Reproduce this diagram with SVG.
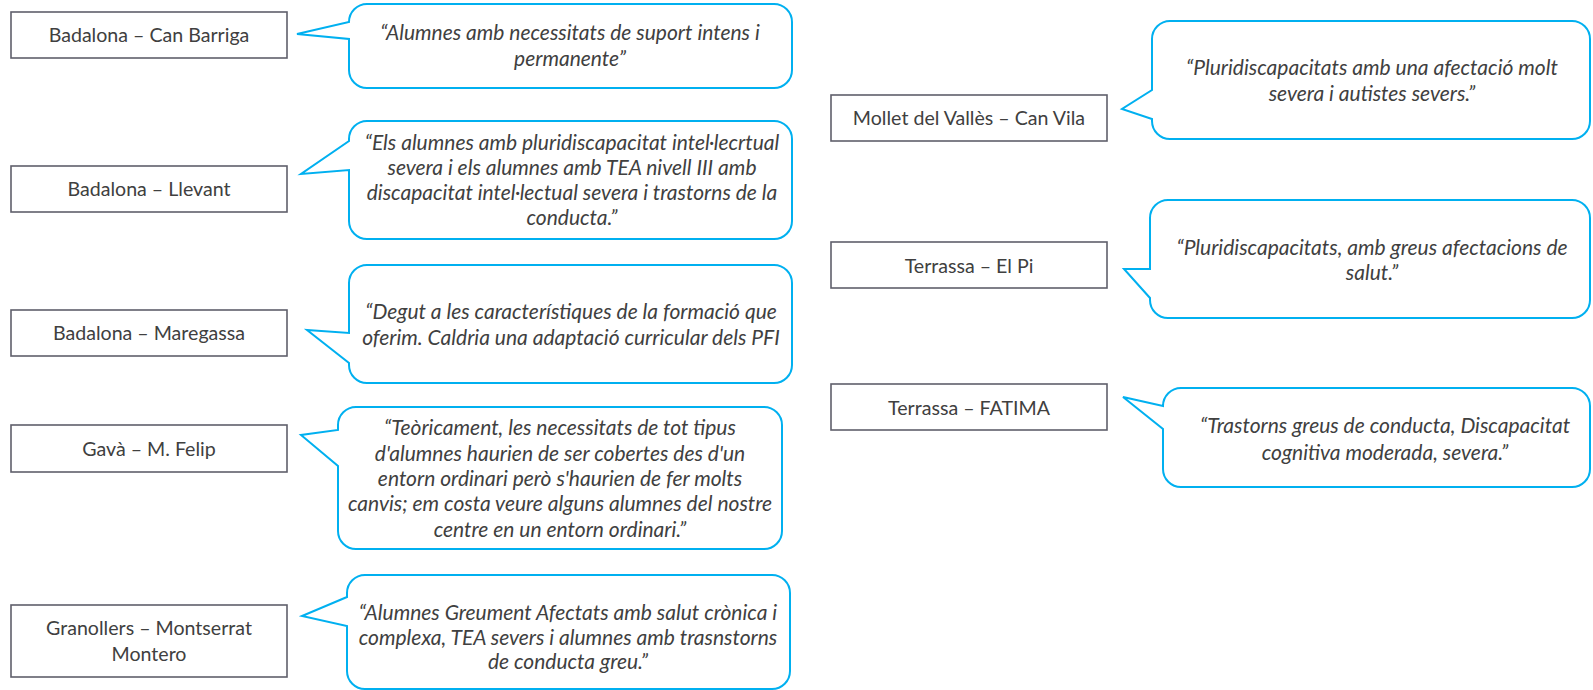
<svg xmlns="http://www.w3.org/2000/svg" width="1593" height="690" viewBox="0 0 1593 690">
<style>
.box{fill:#ffffff;stroke:#5f5f6b;stroke-width:1.6}
.call{fill:#ffffff;stroke:#00b0f0;stroke-width:2;stroke-linejoin:miter}
.lbl{font-family:Lato,"Liberation Sans",sans-serif;font-size:19.6px;fill:#404040;text-anchor:middle}
.q{font-family:Lato,"Liberation Sans",sans-serif;font-size:21px;font-style:italic;fill:#404040;text-anchor:middle}
</style>
<rect width="1593" height="690" fill="#ffffff"/>

<g id="can-barriga">
<rect class="box" x="11" y="12" width="276" height="46"/>
<text class="lbl" x="149" y="42">Badalona – Can Barriga</text>
</g>
<g id="quote-can-barriga">
<path class="call" d="M367,4 H774 A18,18 0 0 1 792,22 V70 A18,18 0 0 1 774,88 H367 A18,18 0 0 1 349,70 V39 L297,34 L349,22 A18,18 0 0 1 367,4 Z"/>
<text class="q" x="570" y="40">“Alumnes amb necessitats de suport intens i</text>
<text class="q" x="570" y="66">permanente”</text>
</g>

<g id="llevant">
<rect class="box" x="11" y="166" width="276" height="46"/>
<text class="lbl" x="149" y="196">Badalona – Llevant</text>
</g>
<g id="quote-llevant">
<path class="call" d="M367,121 H774 A18,18 0 0 1 792,139 V221 A18,18 0 0 1 774,239 H367 A18,18 0 0 1 349,221 V170 L301,174 L349,141 V139 A18,18 0 0 1 367,121 Z"/>
<text class="q" x="572" y="150">“Els alumnes amb pluridiscapacitat intel·lecrtual</text>
<text class="q" x="572" y="175">severa i els alumnes amb TEA nivell III amb</text>
<text class="q" x="572" y="200">discapacitat intel·lectual severa i trastorns de la</text>
<text class="q" x="572" y="225">conducta.”</text>
</g>

<g id="maregassa">
<rect class="box" x="11" y="310" width="276" height="46"/>
<text class="lbl" x="149" y="340">Badalona – Maregassa</text>
</g>
<g id="quote-maregassa">
<path class="call" d="M367,265 H774 A18,18 0 0 1 792,283 V365 A18,18 0 0 1 774,383 H367 A18,18 0 0 1 349,365 V363 L307,330 L349,333 V283 A18,18 0 0 1 367,265 Z"/>
<text class="q" x="571" y="319">“Degut a les característiques de la formació que</text>
<text class="q" x="571" y="345">oferim. Caldria una adaptació curricular dels PFI</text>
</g>

<g id="gava">
<rect class="box" x="11" y="425" width="276" height="47"/>
<text class="lbl" x="149" y="456">Gavà – M. Felip</text>
</g>
<g id="quote-gava">
<path class="call" d="M356,407 H764 A18,18 0 0 1 782,425 V531 A18,18 0 0 1 764,549 H356 A18,18 0 0 1 338,531 V466 L301,435 L338,430 V425 A18,18 0 0 1 356,407 Z"/>
<text class="q" x="560" y="435">“Teòricament, les necessitats de tot tipus</text>
<text class="q" x="560" y="461">d'alumnes haurien de ser cobertes des d'un</text>
<text class="q" x="560" y="486">entorn ordinari però s'haurien de fer molts</text>
<text class="q" x="560" y="511">canvis; em costa veure alguns alumnes del nostre</text>
<text class="q" x="560" y="537">centre en un entorn ordinari.”</text>
</g>

<g id="granollers">
<rect class="box" x="11" y="605" width="276" height="72"/>
<text class="lbl" x="149" y="635">Granollers – Montserrat</text>
<text class="lbl" x="149" y="661">Montero</text>
</g>
<g id="quote-granollers">
<path class="call" d="M365,575 H772 A18,18 0 0 1 790,593 V671 A18,18 0 0 1 772,689 H365 A18,18 0 0 1 347,671 V626 L302,616 L347,597 V593 A18,18 0 0 1 365,575 Z"/>
<text class="q" x="568" y="620">“Alumnes Greument Afectats amb salut crònica i</text>
<text class="q" x="568" y="645">complexa, TEA severs i alumnes amb trasnstorns</text>
<text class="q" x="568" y="669">de conducta greu.”</text>
</g>

<g id="mollet">
<rect class="box" x="831" y="95" width="276" height="46"/>
<text class="lbl" x="969" y="125">Mollet del Vallès – Can Vila</text>
</g>
<g id="quote-mollet">
<path class="call" d="M1170,21 H1572 A18,18 0 0 1 1590,39 V121 A18,18 0 0 1 1572,139 H1170 A18,18 0 0 1 1152,121 V119 L1122,109 L1152,90 V39 A18,18 0 0 1 1170,21 Z"/>
<text class="q" x="1372" y="75">“Pluridiscapacitats amb una afectació molt</text>
<text class="q" x="1372" y="101">severa i autistes severs.”</text>
</g>

<g id="el-pi">
<rect class="box" x="831" y="242" width="276" height="46"/>
<text class="lbl" x="969" y="273">Terrassa – El Pi</text>
</g>
<g id="quote-el-pi">
<path class="call" d="M1168,200 H1572 A18,18 0 0 1 1590,218 V300 A18,18 0 0 1 1572,318 H1168 A18,18 0 0 1 1150,300 V298 L1124,269 L1150,269 V218 A18,18 0 0 1 1168,200 Z"/>
<text class="q" x="1372" y="255">“Pluridiscapacitats, amb greus afectacions de</text>
<text class="q" x="1372" y="280">salut.”</text>
</g>

<g id="fatima">
<rect class="box" x="831" y="384" width="276" height="46"/>
<text class="lbl" x="969" y="415">Terrassa – FATIMA</text>
</g>
<g id="quote-fatima">
<path class="call" d="M1181,388 H1572 A18,18 0 0 1 1590,406 V469 A18,18 0 0 1 1572,487 H1181 A18,18 0 0 1 1163,469 V429 L1123,397 L1163,406 A18,18 0 0 1 1181,388 Z"/>
<text class="q" x="1385" y="433">“Trastorns greus de conducta, Discapacitat</text>
<text class="q" x="1385" y="460">cognitiva moderada, severa.”</text>
</g>
</svg>
